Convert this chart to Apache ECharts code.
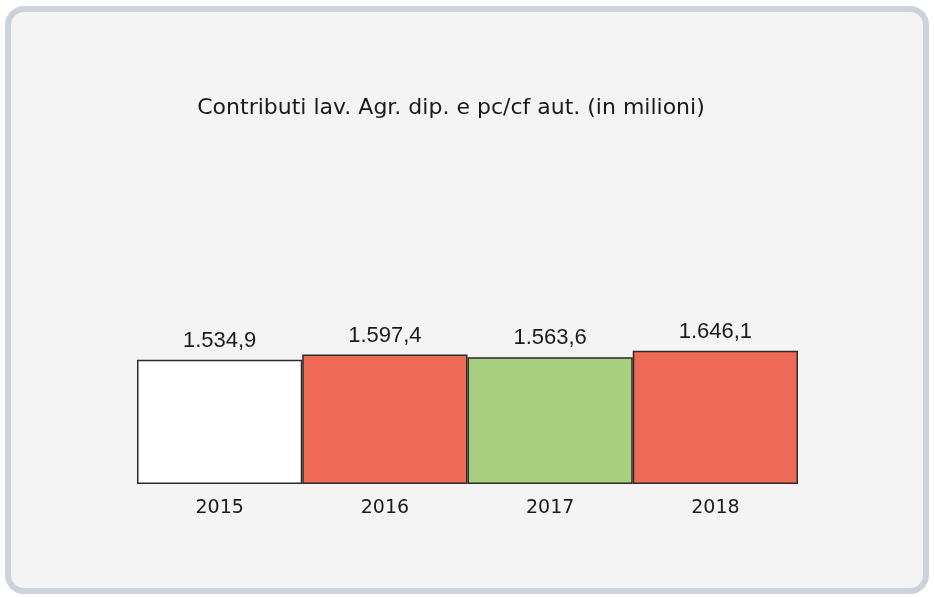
<!DOCTYPE html>
<html>
<head>
<meta charset="utf-8">
<script src="https://cdn.jsdelivr.net/npm/echarts@6/dist/echarts.min.js"></script>
<style>
  html, body { margin: 0; padding: 0; background: #ffffff; }
  #chart { width: 934px; height: 597px; }
</style>
</head>
<body>
<div id="chart"></div>
<script>
const years = ['2015', '2016', '2017', '2018']
const values = [1534.9, 1597.4, 1563.6, 1646.1]
const barColors = ['#ffffff', '#f06a58', '#a7cf7e', '#f06a58']

const chart = echarts.init(document.getElementById('chart'))

function fmt(v) {
  // 1534.9 -> 1.534,9
  const parts = v.toFixed(1).split('.')
  return parts[0].replace(/\B(?=(\d{3})+(?!\d))/g, '.') + ',' + parts[1]
}

chart.setOption({
  animation: false,
  graphic: [
    {
      type: 'rect',
      z: -10,
      shape: { x: 8, y: 9, width: 918, height: 582, r: 16 },
      style: { fill: '#f4f4f4', stroke: '#cdd1d9', lineWidth: 6 }
    }
  ],
  title: {
    text: 'Contributi lav. Agr. dip. e pc/cf aut. (in milioni)',
    left: 446,
    top: 92,
    textAlign: 'center',
    textStyle: {
      fontFamily: 'DejaVu Sans',
      fontWeight: 'normal',
      fontSize: 22,
      color: '#1a1a1a'
    }
  },
  grid: { left: 137, right: 136, top: 322, bottom: 113 },
  xAxis: {
    type: 'category',
    data: years,
    axisLine: { show: false },
    axisTick: { show: false },
    axisLabel: {
      margin: 15,
      fontFamily: 'DejaVu Sans',
      fontSize: 19,
      color: '#1a1a1a'
    }
  },
  yAxis: {
    type: 'value',
    min: 0,
    max: 2000,
    show: false,
    splitLine: { show: false }
  },
  series: [
    {
      type: 'bar',
      barCategoryGap: '0%',
      data: values.map((v, i) => ({
        value: v,
        itemStyle: { color: barColors[i] }
      })),
      itemStyle: { borderColor: '#2b2b2b', borderWidth: 1.5 },
      label: {
        show: true,
        position: 'top',
        distance: 8,
        formatter: p => fmt(p.value),
        fontFamily: 'Liberation Sans',
        fontSize: 22,
        color: '#1a1a1a'
      }
    }
  ]
})
</script>
</body>
</html>
